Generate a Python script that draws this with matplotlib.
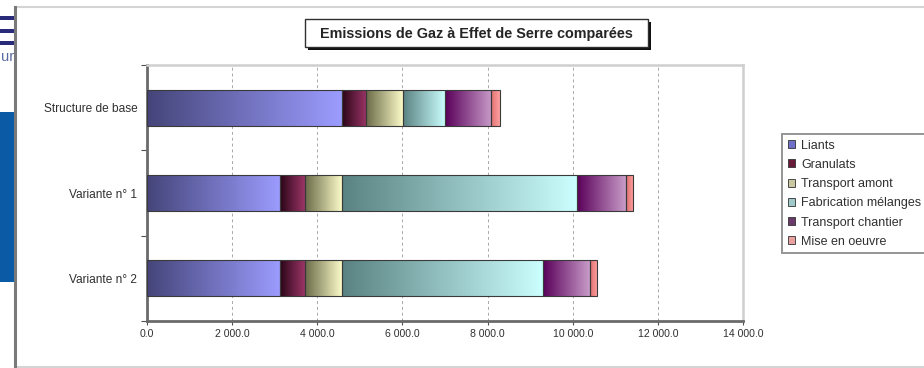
import matplotlib
matplotlib.use("Agg")
import matplotlib.pyplot as plt
import numpy as np
from matplotlib.colors import LinearSegmentedColormap
from matplotlib.patches import Rectangle, Patch
from matplotlib.lines import Line2D

plt.rcParams['font.family'] = ['Liberation Sans', 'DejaVu Sans']

# --- data -------------------------------------------------------------
categories = ["Structure de base", "Variante n° 1", "Variante n° 2"]
series_names = ["Liants", "Granulats", "Transport amont",
                "Fabrication mélanges", "Transport chantier", "Mise en oeuvre"]
liants = [4570, 3130, 3130]
granulats = [570, 570, 570]
transport_amont = [870, 870, 870]
fabrication_melanges = [990, 5530, 4730]
transport_chantier = [1090, 1140, 1100]
mise_en_oeuvre = [200, 170, 170]
x_ticks = [0, 2000, 4000, 6000, 8000, 10000, 12000, 14000]
title = "Emissions de Gaz à Effet de Serre comparées"

series_values = [liants, granulats, transport_amont,
                 fabrication_melanges, transport_chantier, mise_en_oeuvre]

# gradient (dark -> light) for each series
gradients = [("#45457a", "#9c9cff"),
             ("#2a0518", "#9c3566"),
             ("#6a6a48", "#ffffcc"),
             ("#5a8282", "#ccffff"),
             ("#5a005a", "#c89cc8"),
             ("#e07070", "#ffa0a0")]
legend_colors = ["#7070c8", "#6a1a3a", "#c8c8a0", "#a0c8c8", "#6a3a6a", "#e8a0a0"]

# --- figure -----------------------------------------------------------
W, H = 924, 368
fig = plt.figure(figsize=(W / 100, H / 100), dpi=100)
fig.patch.set_facecolor("white")


def fx(px):
    return px / W


def fy(py):
    return 1 - py / H


# surrounding slide elements on the left
for y0, y1 in [(16, 20), (29, 33), (41, 45)]:
    fig.patches.append(Rectangle((0, fy(y1)), fx(14), (y1 - y0) / H,
                                 transform=fig.transFigure,
                                 facecolor="#2a2a7a", edgecolor="none"))
fig.text(fx(1), fy(57), "ur", fontsize=10.5, color="#5a6aa0",
         ha="left", va="center")
fig.patches.append(Rectangle((0, fy(282)), fx(14), (282 - 112) / H,
                             transform=fig.transFigure,
                             facecolor="#0a5aa5", edgecolor="none"))

# chart area frame
fig.patches.append(Rectangle((fx(15), fy(368)), fx(W - 15), (368 - 7) / H,
                             transform=fig.transFigure,
                             facecolor="white", edgecolor="none", zorder=-5))
fig.lines.append(Line2D([fx(15), fx(15)], [fy(7), fy(368)],
                        transform=fig.transFigure, color="#7a7a7a", lw=2.2,
                        zorder=5))
fig.lines.append(Line2D([fx(15), 1], [fy(7), fy(7)],
                        transform=fig.transFigure, color="#d4d4d4", lw=1.5))
fig.lines.append(Line2D([fx(15), 1], [fy(367), fy(367)],
                        transform=fig.transFigure, color="#d4d4d4", lw=1.5))

# plot area
left, right, top, bottom = 147, 743, 65, 321
ax = fig.add_axes([fx(left), fy(bottom), fx(right - left), (bottom - top) / H])
ax.set_facecolor("white")
ax.set_zorder(2)

ypos = np.arange(len(categories))
bar_h = 0.42
grad = np.linspace(0, 1, 256).reshape(1, -1)
cum = np.zeros(len(categories))
for vals, (c0, c1) in zip(series_values, gradients):
    cmap = LinearSegmentedColormap.from_list("g", [c0, c1])
    bars = ax.barh(ypos, vals, left=cum, height=bar_h, facecolor="none",
                   edgecolor="#3a3a3a", lw=0.8, zorder=4)
    for b in bars:
        x0, y0 = b.get_x(), b.get_y()
        w, h = b.get_width(), b.get_height()
        im = ax.imshow(grad, extent=[x0, x0 + w, y0, y0 + h], aspect="auto",
                       cmap=cmap, interpolation="bilinear", zorder=3)
        im.set_clip_path(b)
    cum += np.array(vals)

ax.set_xlim(x_ticks[0], x_ticks[-1])
ax.set_ylim(len(categories) - 0.5, -0.5)
ax.set_aspect("auto")

# grid
for xv in x_ticks[1:-1]:
    ax.axvline(xv, color="#a8a8a8", lw=0.7, ls=(0, (3, 3)), zorder=1)

# spines
for s in ["left", "bottom"]:
    ax.spines[s].set_color("#6a6a6a")
    ax.spines[s].set_linewidth(2.0)
for s in ["top", "right"]:
    ax.spines[s].set_color("#cfcfcf")
    ax.spines[s].set_linewidth(1.8)

ax.set_xticks(x_ticks)
ax.set_xticklabels([f"{v:,.1f}".replace(",", " ") for v in x_ticks])
ax.tick_params(axis="x", direction="out", length=3, width=0.8, color="#505050",
               labelsize=7.6, labelcolor="#303030", pad=3)
ax.set_yticks(np.arange(-0.5, len(categories), 1.0))
ax.set_yticklabels([])
ax.set_yticks(ypos, minor=True)
ax.set_yticklabels(categories, minor=True)
ax.tick_params(axis="y", which="major", direction="out", length=4, width=0.8,
               color="#505050")
ax.tick_params(axis="y", which="minor", length=0, labelsize=8.6,
               labelcolor="#303030", pad=7)

# title box with drop shadow
bx0, bx1, by0, by1 = 305, 648, 19, 47
fig.patches.append(Rectangle((fx(bx0 + 3), fy(by1 + 3)), fx(bx1 - bx0),
                             (by1 - by0) / H, transform=fig.transFigure,
                             facecolor="#101010", edgecolor="none", zorder=1))
fig.patches.append(Rectangle((fx(bx0), fy(by1)), fx(bx1 - bx0),
                             (by1 - by0) / H, transform=fig.transFigure,
                             facecolor="white", edgecolor="#303030", lw=1.0,
                             zorder=1.5))
fig.text(fx((bx0 + bx1) / 2), fy((by0 + by1) / 2 + 1), title, fontsize=10.4,
         fontweight="bold", color="#252525", ha="center", va="center",
         zorder=3)

# legend
handles = [Patch(facecolor=c, edgecolor="#303030", lw=0.6) for c in legend_colors]
leg = fig.legend(handles, series_names, loc="upper left",
                 bbox_to_anchor=(fx(782), fy(134)), fontsize=9.0,
                 frameon=True, fancybox=False, edgecolor="#7a7a7a",
                 handlelength=0.6, handleheight=0.6, handletextpad=0.5,
                 labelspacing=0.58, borderpad=0.45, borderaxespad=0)
leg.get_frame().set_linewidth(1.4)
for t in leg.get_texts():
    t.set_color("#303030")

fig.savefig("out.png", dpi=100, facecolor="white")
